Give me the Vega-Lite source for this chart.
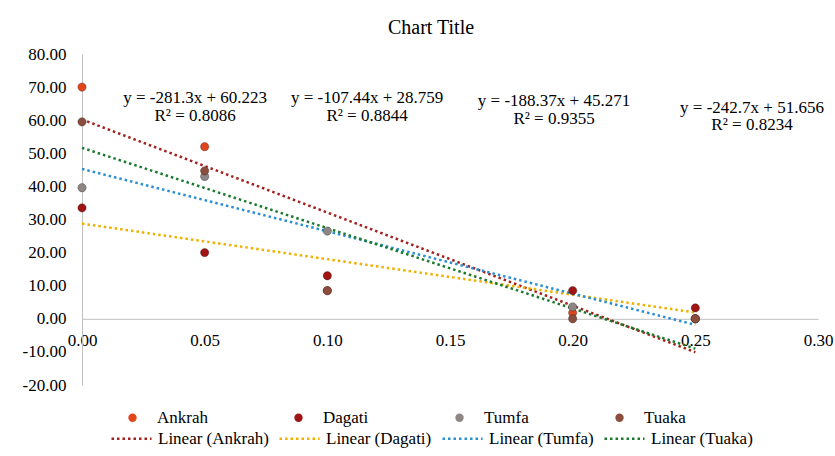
{
  "$schema": "https://vega.github.io/schema/vega-lite/v6.json",
  "width": 736,
  "height": 331,
  "autosize": {"type": "none"},
  "padding": {"left": 82, "top": 54, "right": 17, "bottom": 71},
  "background": "white",
  "title": {"text": "Chart Title", "font": "Liberation Serif", "fontSize": 20, "fontWeight": "normal", "color": "#000", "offset": 7, "dx": -19},
  "config": {
    "view": {"stroke": null},
    "font": "Liberation Serif",
    "axis": {"labelFont": "Liberation Serif", "labelFontSize": 17, "labelColor": "#000", "labelOverlap": false},
    "axisY": {"labelPadding": 16},
    "legend": {"labelFont": "Liberation Serif", "labelFontSize": 17, "labelColor": "#000", "padding": 0}
  },
  "datasets": {
    "points": [
      {"site": "Ankrah", "x": 0, "y": 70},
      {"site": "Ankrah", "x": 0.05, "y": 52},
      {"site": "Ankrah", "x": 0.1, "y": 8.5},
      {"site": "Ankrah", "x": 0.2, "y": 1.8},
      {"site": "Ankrah", "x": 0.25, "y": 0},
      {"site": "Dagati", "x": 0, "y": 33.5},
      {"site": "Dagati", "x": 0.05, "y": 20},
      {"site": "Dagati", "x": 0.1, "y": 13},
      {"site": "Dagati", "x": 0.2, "y": 8.5},
      {"site": "Dagati", "x": 0.25, "y": 3.3},
      {"site": "Tumfa", "x": 0, "y": 39.6},
      {"site": "Tumfa", "x": 0.05, "y": 43},
      {"site": "Tumfa", "x": 0.1, "y": 26.5},
      {"site": "Tumfa", "x": 0.2, "y": 3.6},
      {"site": "Tumfa", "x": 0.25, "y": 0},
      {"site": "Tuaka", "x": 0, "y": 59.5},
      {"site": "Tuaka", "x": 0.05, "y": 44.7},
      {"site": "Tuaka", "x": 0.1, "y": 8.5},
      {"site": "Tuaka", "x": 0.2, "y": 0},
      {"site": "Tuaka", "x": 0.25, "y": 0}
    ],
    "trends": [
      {"trend": "Linear (Ankrah)", "x": 0, "y": 60.223},
      {"trend": "Linear (Ankrah)", "x": 0.25, "y": -10.102},
      {"trend": "Linear (Dagati)", "x": 0, "y": 28.759},
      {"trend": "Linear (Dagati)", "x": 0.25, "y": 1.899},
      {"trend": "Linear (Tumfa)", "x": 0, "y": 45.271},
      {"trend": "Linear (Tumfa)", "x": 0.25, "y": -1.822},
      {"trend": "Linear (Tuaka)", "x": 0, "y": 51.656},
      {"trend": "Linear (Tuaka)", "x": 0.25, "y": -9.019}
    ],
    "labels": [
      {"text": "y = -281.3x + 60.223", "x": 0.0461, "y": 66.8},
      {"text": "R² = 0.8086", "x": 0.0461, "y": 61.4},
      {"text": "y = -107.44x + 28.759", "x": 0.1162, "y": 66.8},
      {"text": "R² = 0.8844", "x": 0.1162, "y": 61.4},
      {"text": "y = -188.37x + 45.271", "x": 0.1924, "y": 65.7},
      {"text": "R² = 0.9355", "x": 0.1924, "y": 60.3},
      {"text": "y = -242.7x + 51.656", "x": 0.2731, "y": 63.8},
      {"text": "R² = 0.8234", "x": 0.2731, "y": 58.4}
    ]
  },
  "layer": [
    {
      "data": {"name": "trends"},
      "mark": {"type": "line", "strokeDash": [2.5, 3], "strokeWidth": 2.5, "strokeCap": "butt"},
      "encoding": {
        "x": {"field": "x", "type": "quantitative", "scale": {"domain": [0, 0.3]},
          "axis": {"title": null, "format": ".2f", "values": [0, 0.05, 0.1, 0.15, 0.2, 0.25, 0.3], "grid": false, "ticks": false, "domainColor": "#bfbfbf", "domainWidth": 1, "offset": -66.2, "labelPadding": 14, "labelFlush": false, "labelOverlap": false}},
        "y": {"field": "y", "type": "quantitative", "scale": {"domain": [-20, 80], "nice": false},
          "axis": {"title": null, "values": [-20, -10, 0, 10, 20, 30, 40, 50, 60, 70, 80], "labelExpr": "replace(format(datum.value, '.2f'), '\u2212', '-')", "grid": false, "ticks": false, "domainColor": "#bfbfbf", "domainWidth": 1, "labelPadding": 16, "labelOverlap": false}},
        "stroke": {"field": "trend", "type": "nominal",
          "scale": {"domain": ["Linear (Ankrah)", "Linear (Dagati)", "Linear (Tumfa)", "Linear (Tuaka)"], "range": ["#a3201c", "#f0b000", "#2a8fd0", "#1b7a2d"]},
          "legend": {"orient": "none", "legendX": 28, "legendY": 363, "direction": "horizontal", "title": null, "symbolType": "stroke", "symbolSize": 1600, "symbolStrokeWidth": 2.5, "symbolDash": [2.5, 3], "columnPadding": 5, "labelOffset": 5, "labelLimit": 300}}
      }
    },
    {
      "data": {"name": "points"},
      "mark": {"type": "point", "filled": true, "size": 70, "opacity": 1, "stroke": "#00000055", "strokeWidth": 0.8},
      "encoding": {
        "x": {"field": "x", "type": "quantitative", "scale": {"domain": [0, 0.3]},
          "axis": {"title": null, "format": ".2f", "values": [0, 0.05, 0.1, 0.15, 0.2, 0.25, 0.3], "grid": false, "ticks": false, "domainColor": "#bfbfbf", "domainWidth": 1, "offset": -66.2, "labelPadding": 14, "labelFlush": false, "labelOverlap": false}},
        "y": {"field": "y", "type": "quantitative", "scale": {"domain": [-20, 80], "nice": false},
          "axis": {"title": null, "values": [-20, -10, 0, 10, 20, 30, 40, 50, 60, 70, 80], "labelExpr": "replace(format(datum.value, '.2f'), '\u2212', '-')", "grid": false, "ticks": false, "domainColor": "#bfbfbf", "domainWidth": 1, "labelPadding": 16, "labelOverlap": false}},
        "fill": {"field": "site", "type": "nominal",
          "scale": {"domain": ["Ankrah", "Dagati", "Tumfa", "Tuaka"], "range": ["#e0451b", "#a01414", "#8e8585", "#8c4e3c"]},
          "legend": {"orient": "none", "legendX": 42, "legendY": 355, "direction": "horizontal", "title": null, "symbolType": "circle", "symbolSize": 70, "symbolStrokeWidth": 0, "columnPadding": 82, "labelOffset": 16, "labelLimit": 300}}
      }
    },
    {
      "data": {"name": "labels"},
      "mark": {"type": "text", "font": "Liberation Serif", "fontSize": 17, "color": "#000", "align": "center", "baseline": "middle"},
      "encoding": {
        "x": {"field": "x", "type": "quantitative", "scale": {"domain": [0, 0.3]},
          "axis": {"title": null, "format": ".2f", "values": [0, 0.05, 0.1, 0.15, 0.2, 0.25, 0.3], "grid": false, "ticks": false, "domainColor": "#bfbfbf", "domainWidth": 1, "offset": -66.2, "labelPadding": 14, "labelFlush": false, "labelOverlap": false}},
        "y": {"field": "y", "type": "quantitative", "scale": {"domain": [-20, 80], "nice": false},
          "axis": {"title": null, "values": [-20, -10, 0, 10, 20, 30, 40, 50, 60, 70, 80], "labelExpr": "replace(format(datum.value, '.2f'), '\u2212', '-')", "grid": false, "ticks": false, "domainColor": "#bfbfbf", "domainWidth": 1, "labelPadding": 16, "labelOverlap": false}},
        "text": {"field": "text", "type": "nominal"}
      }
    }
  ]
}
